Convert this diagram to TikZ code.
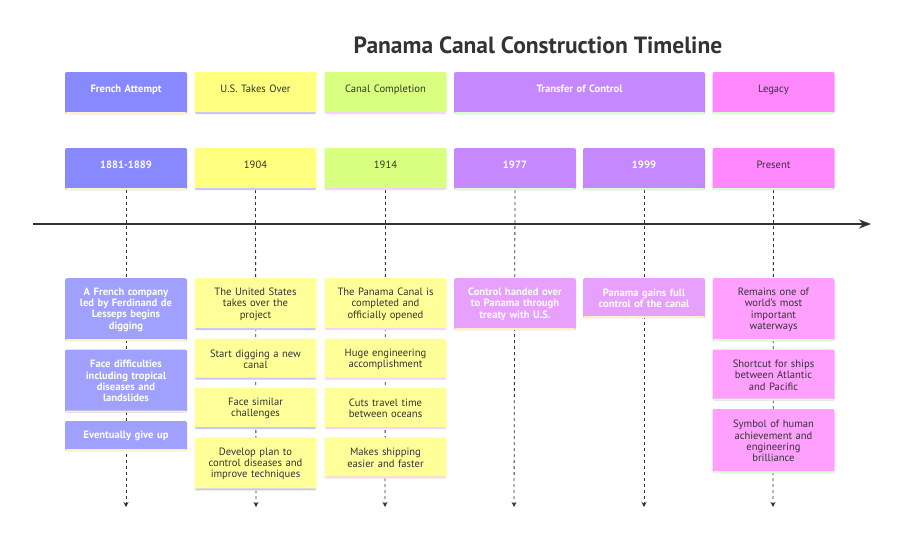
\documentclass[tikz,border=0pt]{standalone}
\usepackage{fontspec}
\setmainfont{PT Sans}
\usetikzlibrary{positioning,arrows.meta,backgrounds}
\definecolor{frenchA}{HTML}{8888FF}
\definecolor{frenchB}{HTML}{A0A0FF}
\definecolor{usA}{HTML}{FFFF80}
\definecolor{usB}{HTML}{FFFF99}
\definecolor{canalA}{HTML}{D9FF80}
\definecolor{transA}{HTML}{C588FF}
\definecolor{transB}{HTML}{E8A0FF}
\definecolor{legacyA}{HTML}{FF88FF}
\definecolor{legacyB}{HTML}{FFA0FF}
\definecolor{stripY}{HTML}{FFF2C4}
\definecolor{stripL}{HTML}{C8C8FF}
\definecolor{stripP}{HTML}{F4D4FF}
\definecolor{stripG}{HTML}{D8FFD0}
\definecolor{ink}{HTML}{333333}
\tikzset{
    box/.style={rounded corners=2pt, align=center, inner sep=0pt, text width=116pt, minimum width=122pt},
    head/.style={box, minimum height=42pt, text height=7pt, text depth=9pt},
    event/.style={box, anchor=north},
    strip/.style={path picture={\fill[#1] ([yshift=2pt]path picture bounding box.south west) rectangle (path picture bounding box.south east);}},
    light/.style={text=white, font=\fontsize{10.6}{11.3}\selectfont\bfseries},
    dark/.style={text=ink, font=\fontsize{10.6}{11.3}\selectfont},
    tline/.style={draw=ink, dash pattern=on 3pt off 3pt, line width=.8pt, -{Stealth[length=5pt,width=5pt]}},
    axis/.style={draw=ink, line width=2.4pt, -{Stealth[length=12pt,width=9pt]}},
}
\begin{document}
\begin{tikzpicture}[x=1pt, y=-1pt]
	\useasboundingbox (0,0) rectangle (900,538);
	\node[text=ink, font=\fontsize{23.5}{28}\selectfont\bfseries] (title) at (538,45) {Panama Canal Construction Timeline};

	% sections
	\node[head, fill=frenchA, strip=stripY, light] (hfrench) at (126,93) {French Attempt};
	\node[head, fill=usA, strip=stripL, dark] (hus) at (255.5,93) {U.S. Takes Over};
	\node[head, fill=canalA, strip=stripP, dark] (hcanal) at (385.5,93) {Canal Completion};
	\node[head, fill=transA, strip=stripG, light, text width=240pt, minimum width=251pt] (htrans) at (579.5,93) {Transfer of Control};
	\node[head, fill=legacyA, strip=stripG, dark] (hlegacy) at (773.5,93) {Legacy};

	% periods
	\node[head, fill=frenchA, strip=stripY, light] (p1881) at (126,169) {1881-1889};
	\node[head, fill=usA, strip=stripL, dark] (p1904) at (255.5,169) {1904};
	\node[head, fill=canalA, strip=stripP, dark] (p1914) at (385.5,169) {1914};
	\node[head, fill=transA, strip=stripG, light] (p1977) at (515,169) {1977};
	\node[head, fill=transA, strip=stripG, light] (p1999) at (644,169) {1999};
	\node[head, fill=legacyA, strip=stripG, dark] (ppresent) at (773.5,169) {Present};

	% events
	\node[event, fill=frenchB, strip=stripY, light, minimum height=63pt] (e11) at (126,278) {A French company\\led by Ferdinand de\\Lesseps begins\\digging};
	\node[event, fill=frenchB, strip=stripY, light, minimum height=63pt, below=8pt of e11] (e12) {Face difficulties\\including tropical\\diseases and\\landslides};
	\node[event, fill=frenchB, strip=stripY, light, minimum height=30pt, below=8pt of e12] (e13) {Eventually give up};

	\node[event, fill=usB, strip=stripL, dark, minimum height=52pt] (e21) at (255.5,278) {The United States\\takes over the\\project};
	\node[event, fill=usB, strip=stripL, dark, minimum height=41pt, below=8pt of e21] (e22) {Start digging a new\\canal};
	\node[event, fill=usB, strip=stripL, dark, minimum height=41pt, below=8pt of e22] (e23) {Face similar\\challenges};
	\node[event, fill=usB, strip=stripL, dark, minimum height=53pt, below=8pt of e23] (e24) {Develop plan to\\control diseases and\\improve techniques};

	\node[event, fill=usB, strip=stripP, dark, minimum height=52pt] (e31) at (385.5,278) {The Panama Canal is\\completed and\\officially opened};
	\node[event, fill=usB, strip=stripP, dark, minimum height=41pt, below=8pt of e31] (e32) {Huge engineering\\accomplishment};
	\node[event, fill=usB, strip=stripP, dark, minimum height=41pt, below=8pt of e32] (e33) {Cuts travel time\\between oceans};
	\node[event, fill=usB, strip=stripP, dark, minimum height=41pt, below=8pt of e33] (e34) {Makes shipping\\easier and faster};

	\node[event, fill=transB, strip=stripY, light, minimum height=52pt] (e41) at (515,278) {Control handed over\\to Panama through\\treaty with U.S.};

	\node[event, fill=transB, strip=stripY, light, minimum height=40pt] (e51) at (644,278) {Panama gains full\\control of the canal};

	\node[event, fill=legacyB, strip=stripG, dark, minimum height=63pt] (e61) at (773.5,278) {Remains one of\\world's most\\important\\waterways};
	\node[event, fill=legacyB, strip=stripG, dark, minimum height=51pt, below=8pt of e61] (e62) {Shortcut for ships\\between Atlantic\\and Pacific};
	\node[event, fill=legacyB, strip=stripG, dark, minimum height=64pt, below=8pt of e62] (e63) {Symbol of human\\achievement and\\engineering\\brilliance};

	% timeline
	\coordinate (tstart) at (33,224);
	\coordinate (tend) at (871,224);
	\foreach \n/\x in {1881/126, 1904/256, 1914/385, 1977/514, 1999/644, present/773}
		\coordinate (b\n) at (\x,507);

	\begin{scope}[on background layer]
		\foreach \n in {1881, 1904, 1914, 1977, 1999, present}
			\draw[tline] (p\n.south) -- (b\n);
	\end{scope}
	\draw[axis] (tstart) -- (tend);
\end{tikzpicture}
\end{document}
